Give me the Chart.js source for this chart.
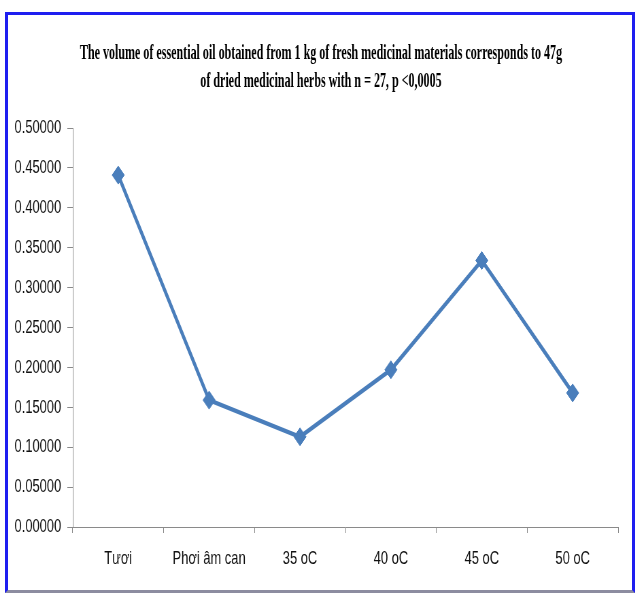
<!DOCTYPE html>
<html>
<head>
<meta charset="utf-8">
<script src="https://cdn.jsdelivr.net/npm/chart.js@4/dist/chart.umd.min.js"></script>
<style>
  html, body { margin: 0; padding: 0; background: #ffffff; }
  #stage { position: relative; width: 641px; height: 597px; overflow: hidden; }
  /* the chart is laid out wide and narrowed horizontally */
  #wrap { position: absolute; left: 0; top: 0; width: 943px; height: 597px;
          transform: scaleX(0.68); transform-origin: 0 0; }
  #frame { position: absolute; left: 5px; top: 12px; width: 624px; height: 575px;
           border: 3px solid #1e1ef0; border-bottom-color: #8c8ca0; pointer-events: none; }
</style>
</head>
<body>
<div id="stage">
  <div id="wrap"><canvas id="chart"></canvas></div>
  <div id="frame"></div>
</div>
<script>
// samples: fresh vs. shade-dried vs. oven-dried at several temperatures
const categories = ['Tươi', 'Phơi âm can', '35 oC', '40 oC', '45 oC', '50 oC'];
const oilVolume = [0.441, 0.159, 0.113, 0.197, 0.334, 0.168];
const titleLines = [
  'The volume of essential oil obtained from 1 kg of fresh medicinal materials corresponds to 47g',
  'of dried medicinal herbs with n = 27, p <0,0005'
];
const yMin = 0, yMax = 0.5, yStep = 0.05;

const lineBlue = '#4a7ebb';
const axisGrey = '#8a8a8a';
const tickFont = { family: '"Liberation Sans", Arial, sans-serif', size: 19 };

// two-line condensed bold title above the plot
const titlePlugin = {
  id: 'condensedTitle',
  afterDraw(chart) {
    const ctx = chart.ctx;
    ctx.save();
    ctx.font = 'bold 21px "Liberation Serif", "Times New Roman", serif';
    ctx.fillStyle = '#000000';
    ctx.textAlign = 'center';
    ctx.textBaseline = 'alphabetic';
    const w = ctx.measureText(titleLines[0]).width;
    const sx = 709 / w;
    const cx = 472;
    const baselines = [59, 87];
    titleLines.forEach((line, i) => {
      ctx.save();
      ctx.translate(cx, baselines[i]);
      ctx.scale(sx, 1);
      ctx.fillText(line, 0, 0);
      ctx.restore();
    });
    ctx.restore();
  }
};

new Chart(document.getElementById('chart'), {
  type: 'line',
  data: {
    labels: categories,
    datasets: [{
      data: oilVolume,
      borderColor: lineBlue,
      backgroundColor: lineBlue,
      borderWidth: 4.5,
      tension: 0,
      pointStyle: 'rectRot',
      pointRadius: 9,
      pointHoverRadius: 9,
      pointBackgroundColor: lineBlue,
      pointBorderColor: lineBlue,
      pointBorderWidth: 1
    }]
  },
  options: {
    responsive: true,
    maintainAspectRatio: false,
    animation: false,
    layout: { padding: { top: 128, right: 34, bottom: 0, left: 0 } },
    plugins: {
      legend: { display: false },
      title: { display: false },
      tooltip: { enabled: false }
    },
    scales: {
      x: {
        type: 'category',
        offset: true,
        afterFit(scale) { scale.height = 70; },
        grid: {
          offset: true,
          drawOnChartArea: false,
          drawTicks: true,
          tickLength: 6,
          color: axisGrey,
          lineWidth: 1
        },
        border: { display: true, color: axisGrey, width: 1 },
        ticks: {
          color: '#111111',
          padding: 14,
          maxRotation: 0,
          autoSkip: false,
          font: tickFont
        }
      },
      y: {
        min: yMin,
        max: yMax,
        afterFit(scale) { scale.width = 107; },
        grid: {
          drawOnChartArea: false,
          drawTicks: true,
          tickLength: 8,
          color: axisGrey,
          lineWidth: 1
        },
        border: { display: true, color: axisGrey, width: 1 },
        ticks: {
          stepSize: yStep,
          color: '#111111',
          padding: 9,
          font: tickFont,
          callback: (v) => Number(v).toFixed(5)
        }
      }
    }
  },
  plugins: [titlePlugin]
});
</script>
</body>
</html>
